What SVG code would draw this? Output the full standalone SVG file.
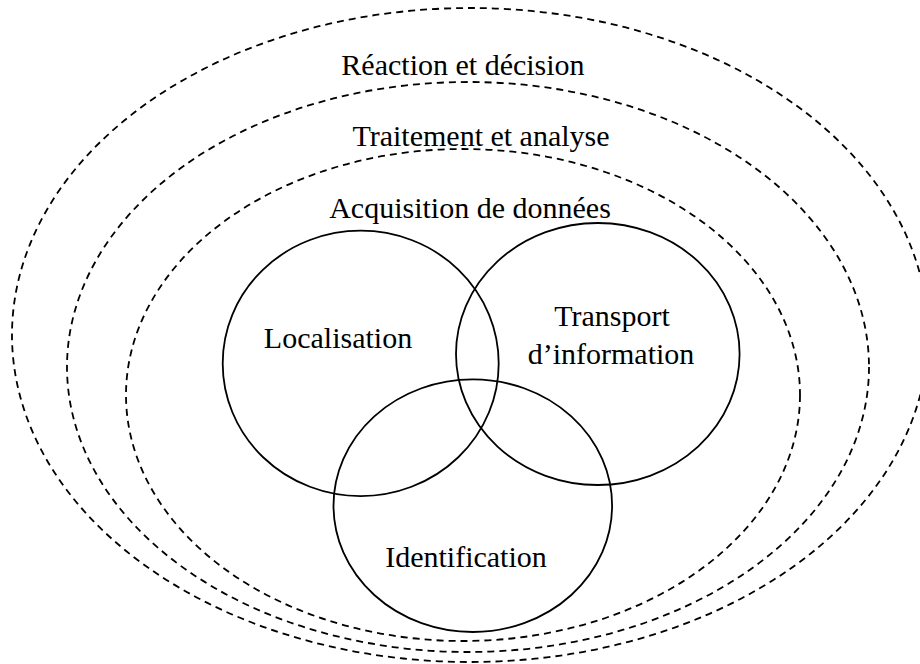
<svg xmlns="http://www.w3.org/2000/svg" width="920" height="664" viewBox="0 0 920 664">
<style>
.layer{fill:none;stroke:#000;stroke-width:1.8;stroke-dasharray:7 5}
.set{fill:none;stroke:#000;stroke-width:1.8}
text{font-family:"Liberation Serif","Times New Roman",serif;font-size:30px;fill:#000;text-anchor:middle}
</style>
<rect width="920" height="664" fill="#fff"/>
<g id="reaction-decision">
<ellipse class="layer" cx="470" cy="335" rx="458" ry="327"/>
<text x="463" y="75">Réaction et décision</text>
</g>
<g id="traitement-analyse">
<ellipse class="layer" cx="468" cy="367" rx="401" ry="285"/>
<text x="481" y="146">Traitement et analyse</text>
</g>
<g id="acquisition-donnees">
<ellipse class="layer" cx="463" cy="395" rx="337" ry="246"/>
<text x="470" y="218">Acquisition de données</text>
</g>
<g id="localisation">
<ellipse class="set" cx="360.7" cy="363.4" rx="138" ry="132.7"/>
<text x="338" y="348">Localisation</text>
</g>
<g id="transport">
<ellipse class="set" cx="597.8" cy="354" rx="141.8" ry="131"/>
<text x="612" y="326">Transport</text>
<text x="611" y="364">d’information</text>
</g>
<g id="identification">
<ellipse class="set" cx="472.8" cy="505.7" rx="139.3" ry="126.3"/>
<text x="466" y="567">Identification</text>
</g>
<g id="connectors"/>
</svg>
